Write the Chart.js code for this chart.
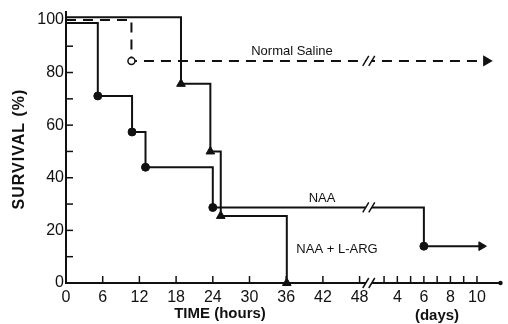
<!DOCTYPE html>
<html>
<head>
<meta charset="utf-8">
<script src="https://cdn.jsdelivr.net/npm/chart.js@4.4.1/dist/chart.umd.min.js"></script>
<style>
html, body { margin: 0; padding: 0; background: #fff; }
canvas { display: block; }
</style>
</head>
<body>
<canvas id="chart" width="508" height="324"></canvas>
<script>
// survival curves, time in hours (after 48 h the axis is in days)
var salineHours = [0, 10.7, 257];
var salineSurvival = [100, 84.4, 84.4];
var argHours = [0, 18.8, 23.6, 25.3, 36.1];
var argSurvival = [101, 75.7, 50, 25.5, 0];
var naaHours = [0, 5.2, 10.8, 13.0, 24.0, 144, 248];
var naaSurvival = [98.8, 71.1, 57.4, 44.0, 28.7, 14.0, 14.0];

var hourTicks = [0, 6, 12, 18, 24, 30, 36, 42, 48];
var dayTicks = [3, 4, 5, 6, 7, 8, 9, 10];
var dayTickLabels = ['', '4', '', '6', '', '8', '', '10'];
var yTicks = [0, 10, 20, 30, 40, 50, 60, 70, 80, 90, 100];
var yTickLabels = ['0', '', '20', '', '40', '', '60', '', '80', '', '100'];

var FONT = "'Liberation Sans', Arial, sans-serif";

// broken axis: hours up to 48, then days on a compressed scale
function axisPos(h){
    if(h <= 48) return h;
    return 52 + (h / 24 - 3) * 2.17;
}
var BREAK_X = 49.5;

function toPoints(hours, surv){
    return hours.map(function(h, i){ return {x: axisPos(h), y: surv[i]}; });
}

var xTickValues = hourTicks.concat(dayTicks.map(function(d){ return axisPos(d * 24); }));
var xTickLabels = hourTicks.map(String).concat(dayTickLabels);

function marks(n, style, size){
    var st = [], r = [], rot = [];
    for(var i = 0; i < n; i++){
        st.push(style); r.push(i == 0 ? 0 : size); rot.push(0);
    }
    return {style: st, radius: r, rotation: rot};
}

var argM = marks(argHours.length, 'triangle', 5);
var salineM = marks(salineHours.length, 'circle', 3.5);
salineM.style[2] = 'triangle'; salineM.radius[2] = 5; salineM.rotation[2] = 90;
var naaM = marks(naaHours.length, 'circle', 4);
naaM.style[6] = 'triangle'; naaM.radius[6] = 5; naaM.rotation[6] = 90;

var extras = {
    id: 'extras',
    afterDatasetsDraw: function(chart){
        var ctx = chart.ctx;
        var xs = chart.scales.x, ys = chart.scales.y;
        var ca = chart.chartArea;
        ctx.save();
        ctx.strokeStyle = '#111';
        ctx.lineWidth = 1.5;
        // inward tick marks
        yTicks.forEach(function(v){
            if(v == 0) return;
            var py = ys.getPixelForValue(v);
            ctx.beginPath(); ctx.moveTo(ca.left, py); ctx.lineTo(ca.left + 7, py); ctx.stroke();
        });
        xTickValues.forEach(function(v){
            if(v == 0) return;
            var px = xs.getPixelForValue(v);
            ctx.beginPath(); ctx.moveTo(px, ca.bottom); ctx.lineTo(px, ca.bottom - 7); ctx.stroke();
        });
        // axis end dot
        ctx.fillStyle = '#111';
        ctx.beginPath(); ctx.arc(ca.right - 1, ca.bottom, 2.2, 0, Math.PI * 2); ctx.fill();

        // break marks
        var bx = xs.getPixelForValue(BREAK_X);
        [84.4, 28.7, 0].forEach(function(v){
            var by = ys.getPixelForValue(v);
            ctx.fillStyle = '#fff';
            ctx.beginPath();
            ctx.moveTo(bx - 6, by + 5); ctx.lineTo(bx, by - 5); ctx.lineTo(bx + 6, by - 5); ctx.lineTo(bx, by + 5);
            ctx.closePath(); ctx.fill();
            ctx.lineWidth = 1.5;
            ctx.beginPath();
            ctx.moveTo(bx - 6, by + 5); ctx.lineTo(bx, by - 5);
            ctx.moveTo(bx, by + 5); ctx.lineTo(bx + 6, by - 5);
            ctx.stroke();
        });

        // curve labels
        ctx.fillStyle = '#111';
        ctx.font = '13px ' + FONT;
        ctx.textAlign = 'center';
        ctx.textBaseline = 'middle';
        ctx.fillText('Normal Saline', 292, 51);
        ctx.fillText('NAA', 322, 198);
        ctx.fillText('NAA + L-ARG', 337, 249);

        // axis titles
        ctx.font = 'bold 15px ' + FONT;
        ctx.fillText('TIME (hours)', 220, 314);
        ctx.fillText('(days)', 437, 316);
        ctx.translate(20, 149);
        ctx.rotate(-Math.PI / 2);
        ctx.letterSpacing = '1px';
        ctx.font = 'bold 16px ' + FONT;
        ctx.fillText('SURVIVAL (%)', 0, 0);
        ctx.restore();
    }
};

var ctx = document.getElementById('chart').getContext('2d');
var chart = new Chart(ctx, {
    type: 'line',
    data: {
        datasets: [
            {
                label: 'NAA + L-ARG',
                data: toPoints(argHours, argSurvival),
                borderColor: '#111',
                borderWidth: 2,
                stepped: 'before',
                pointStyle: argM.style,
                pointRadius: argM.radius,
                pointRotation: argM.rotation,
                pointBackgroundColor: '#111',
                pointBorderColor: '#111',
                pointBorderWidth: 1
            },
            {
                label: 'Normal Saline',
                data: toPoints(salineHours, salineSurvival),
                borderColor: '#111',
                borderWidth: 2,
                borderDash: [10, 7],
                stepped: 'before',
                pointStyle: salineM.style,
                pointRadius: salineM.radius,
                pointRotation: salineM.rotation,
                pointBackgroundColor: ['#fff', '#fff', '#111'],
                pointBorderColor: '#111',
                pointBorderWidth: 1.5
            },
            {
                label: 'NAA',
                data: toPoints(naaHours, naaSurvival),
                borderColor: '#111',
                borderWidth: 2,
                stepped: 'before',
                pointStyle: naaM.style,
                pointRadius: naaM.radius,
                pointRotation: naaM.rotation,
                pointBackgroundColor: '#111',
                pointBorderColor: '#111',
                pointBorderWidth: 1
            }
        ]
    },
    options: {
        responsive: false,
        animation: false,
        layout: { padding: { top: 12, right: 3, left: 0, bottom: 0 } },
        plugins: { legend: { display: false }, tooltip: { enabled: false } },
        elements: { line: { tension: 0 } },
        datasets: { line: { clip: false } },
        scales: {
            x: {
                type: 'linear',
                min: 0,
                max: 71.2,
                afterBuildTicks: function(s){
                    s.ticks = xTickValues.map(function(v){ return {value: v}; });
                },
                afterFit: function(s){ s.height = 41; },
                grid: { drawOnChartArea: false, drawTicks: false },
                border: { display: true, color: '#111', width: 2 },
                ticks: {
                    autoSkip: false,
                    maxRotation: 0,
                    padding: 5,
                    color: '#111',
                    font: { family: FONT, size: 16 },
                    callback: function(v, i){ return xTickLabels[i]; }
                }
            },
            y: {
                min: 0,
                max: 103,
                afterBuildTicks: function(s){
                    s.ticks = yTicks.map(function(v){ return {value: v}; });
                },
                afterFit: function(s){ s.width = 66; },
                grid: { drawOnChartArea: false, drawTicks: false },
                border: { display: true, color: '#111', width: 2 },
                ticks: {
                    autoSkip: false,
                    padding: 2,
                    color: '#111',
                    font: { family: FONT, size: 16 },
                    callback: function(v, i){ return yTickLabels[i]; }
                }
            }
        }
    },
    plugins: [extras]
});
</script>
</body>
</html>
